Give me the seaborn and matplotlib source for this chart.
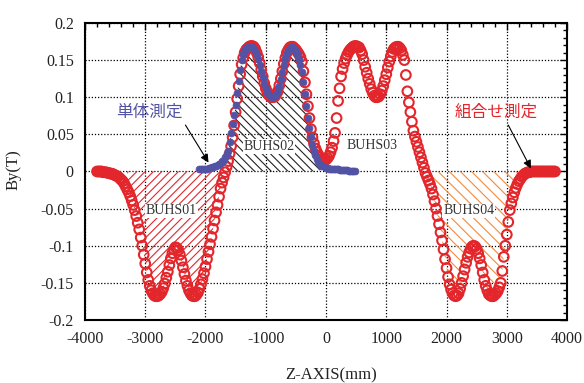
import numpy as np
import matplotlib
matplotlib.use("Agg")
import matplotlib.pyplot as plt
import seaborn as sns
from matplotlib.ticker import MultipleLocator

# ---------------- data ----------------
# combined measurement (組合せ測定), 25 mm measurement grid
z_red = np.arange(-3800, 3801, 25)
by_red = [
    0.000, 0.000, 0.000, 0.000, -0.001, -0.001, -0.001, -0.002, -0.002, -0.003,
    -0.003, -0.004, -0.005, -0.006, -0.007, -0.009, -0.011, -0.013, -0.016, -0.020,
    -0.024, -0.028, -0.033, -0.039, -0.045, -0.052, -0.060, -0.069, -0.078, -0.089,
    -0.100, -0.112, -0.124, -0.136, -0.146, -0.154, -0.160, -0.164, -0.167, -0.168,
    -0.168, -0.167, -0.165, -0.162, -0.157, -0.151, -0.143, -0.135, -0.126, -0.117,
    -0.110, -0.105, -0.102, -0.103, -0.106, -0.112, -0.120, -0.129, -0.138, -0.147,
    -0.154, -0.160, -0.164, -0.167, -0.168, -0.168, -0.166, -0.163, -0.158, -0.152,
    -0.145, -0.137, -0.128, -0.118, -0.108, -0.098, -0.088, -0.077, -0.066, -0.055,
    -0.045, -0.034, -0.023, -0.015, -0.008, -0.001, 0.006, 0.014, 0.024, 0.034,
    0.046, 0.062, 0.080, 0.098, 0.115, 0.131, 0.144, 0.153, 0.160, 0.164,
    0.166, 0.168, 0.169, 0.169, 0.168, 0.165, 0.160, 0.154, 0.146, 0.137,
    0.128, 0.119, 0.112, 0.107, 0.103, 0.101, 0.100, 0.100, 0.101, 0.104,
    0.108, 0.116, 0.125, 0.135, 0.145, 0.153, 0.160, 0.164, 0.167, 0.168,
    0.168, 0.166, 0.164, 0.161, 0.158, 0.154, 0.148, 0.135, 0.120, 0.104,
    0.088, 0.072, 0.057, 0.046, 0.038, 0.031, 0.026, 0.022, 0.019, 0.017,
    0.015, 0.015, 0.016, 0.018, 0.021, 0.026, 0.032, 0.041, 0.052, 0.072,
    0.095, 0.112, 0.128, 0.138, 0.146, 0.152, 0.157, 0.161, 0.164, 0.166,
    0.168, 0.169, 0.169, 0.168, 0.167, 0.163, 0.158, 0.150, 0.141, 0.133,
    0.125, 0.118, 0.111, 0.106, 0.102, 0.100, 0.100, 0.101, 0.104, 0.109,
    0.115, 0.123, 0.131, 0.140, 0.148, 0.155, 0.161, 0.165, 0.167, 0.168,
    0.168, 0.166, 0.163, 0.157, 0.150, 0.130, 0.108, 0.093, 0.080, 0.067,
    0.055, 0.047, 0.040, 0.033, 0.026, 0.019, 0.012, 0.005, -0.002, -0.007,
    -0.012, -0.017, -0.023, -0.031, -0.040, -0.050, -0.060, -0.071, -0.082, -0.093,
    -0.105, -0.118, -0.130, -0.142, -0.152, -0.159, -0.164, -0.167, -0.168, -0.167,
    -0.164, -0.158, -0.150, -0.141, -0.132, -0.123, -0.115, -0.109, -0.104, -0.101,
    -0.100, -0.101, -0.104, -0.110, -0.117, -0.126, -0.136, -0.146, -0.154, -0.160,
    -0.165, -0.167, -0.168, -0.168, -0.166, -0.164, -0.161, -0.156, -0.150, -0.134,
    -0.115, -0.100, -0.085, -0.068, -0.052, -0.043, -0.035, -0.028, -0.022, -0.017,
    -0.013, -0.010, -0.007, -0.005, -0.003, -0.002, -0.001, -0.001, 0.000, 0.000,
    0.000, 0.000, 0.000, 0.000, 0.000, 0.000, 0.000, 0.000, 0.000, 0.000,
    0.000, 0.000, 0.000, 0.000, 0.000,
]

# single measurement (単体測定) of BUHS02
z_blue = np.arange(-2100, 476, 25)
by_blue = [
    0.003, 0.003, 0.003, 0.004, 0.004, 0.004, 0.005, 0.005, 0.006, 0.006,
    0.007, 0.008, 0.009, 0.010, 0.012, 0.014, 0.016, 0.019, 0.023, 0.028,
    0.040, 0.052, 0.064, 0.076, 0.090, 0.106, 0.122, 0.137, 0.150, 0.158,
    0.163, 0.166, 0.167, 0.168, 0.168, 0.167, 0.165, 0.162, 0.157, 0.151,
    0.144, 0.136, 0.127, 0.119, 0.112, 0.107, 0.103, 0.101, 0.100, 0.100,
    0.101, 0.104, 0.108, 0.115, 0.124, 0.134, 0.144, 0.153, 0.160, 0.164,
    0.166, 0.167, 0.167, 0.165, 0.162, 0.158, 0.152, 0.144, 0.134, 0.120,
    0.104, 0.088, 0.072, 0.058, 0.046, 0.036, 0.028, 0.022, 0.017, 0.013,
    0.010, 0.008, 0.007, 0.006, 0.005, 0.005, 0.004, 0.004, 0.004, 0.003,
    0.003, 0.003, 0.003, 0.002, 0.002, 0.002, 0.002, 0.002, 0.002, 0.001,
    0.001, 0.001, 0.001, 0.001,
]

x_ticks = [-4000, -3000, -2000, -1000, 0, 1000, 2000, 3000, 4000]
x_tick_labels = ["-4000", "-3000", "-2000", "-1000", "0", "1000", "2000", "3000", "4000"]
y_ticks = [-0.2, -0.15, -0.1, -0.05, 0, 0.05, 0.1, 0.15, 0.2]
y_tick_labels = ["-0.2", "-0.15", "-0.1", "-0.05", "0", "0.05", "0.1", "0.15", "0.2"]

region_names = ["BUHS01", "BUHS02", "BUHS03", "BUHS04"]
label_single = "単体測定"
label_combined = "組合せ測定"
x_label = "Z-AXIS(mm)"
y_label = "By(T)"

# ---------------- style ----------------
RED = "#e3262b"
BLUE = "#5353a6"
ORANGE = "#f58a3c"

sns.set_style("white")
plt.rcParams["font.family"] = ["Liberation Serif", "DejaVu Serif"]
plt.rcParams["hatch.linewidth"] = 0.8

fig = plt.figure(figsize=(5.84, 3.83), dpi=100)
ax = fig.add_axes([0.1455, 0.1645, 0.8255, 0.7755])

z_red_arr = np.asarray(z_red)
by_red_arr = np.asarray(by_red)
z_blue_arr = np.asarray(z_blue)
by_blue_arr = np.asarray(by_blue)

# hatched areas
m1 = (z_red_arr >= -3300) & (z_red_arr <= -1675)
ax.fill_between(z_red_arr[m1], by_red_arr[m1], 0, facecolor="none",
                edgecolor=RED, hatch="////", linewidth=0, zorder=1)
m2 = (z_blue_arr >= -1650) & (z_blue_arr <= -100)
ax.fill_between(z_blue_arr[m2], by_blue_arr[m2], 0, facecolor="none",
                edgecolor="#222222", hatch="\\\\\\\\", linewidth=0, zorder=1)
m4 = (z_red_arr >= 1650) & (z_red_arr <= 3375)
ax.fill_between(z_red_arr[m4], by_red_arr[m4], 0, facecolor="none",
                edgecolor=ORANGE, hatch="\\\\\\", linewidth=0, zorder=1)

# measurement points
sns.scatterplot(x=z_red_arr, y=by_red_arr, ax=ax, marker="o", s=48,
                facecolor="none", edgecolor=RED, linewidth=1.5, zorder=3)
sns.scatterplot(x=z_blue_arr, y=by_blue_arr, ax=ax, marker="o", s=24,
                color=BLUE, edgecolor=BLUE, linewidth=0.6, zorder=4)

# axes
ax.set_xlim(-4000, 4000)
ax.set_ylim(-0.2, 0.2)
ax.set_xticks(x_ticks)
ax.set_xticklabels(x_tick_labels)
ax.set_yticks(y_ticks)
ax.set_yticklabels(y_tick_labels)
ax.xaxis.set_minor_locator(MultipleLocator(200))
ax.yaxis.set_minor_locator(MultipleLocator(0.01))
ax.tick_params(which="both", direction="in", top=True, right=True,
               color="black", width=1.0)
ax.tick_params(which="major", length=5, labelsize=11.5, pad=8, labelcolor="#222222")
ax.tick_params(which="minor", length=3)
for sp in ax.spines.values():
    sp.set_linewidth(1.5)
    sp.set_color("black")
ax.grid(True, which="major", linestyle=(0, (1, 1.5)), color="black", linewidth=0.9)
ax.set_axisbelow(True)

ax.set_xlabel(x_label, fontsize=12, color="#222222")
ax.xaxis.set_label_coords(0.51, -0.158)
ax.set_ylabel(y_label, fontsize=12, color="#222222")
ax.yaxis.set_label_coords(-0.131, 0.505)

# region labels
label_pos = [(-2570, -0.053), (-945, 0.034), (760, 0.035), (2370, -0.053)]
for name, (lx, ly) in zip(region_names, label_pos):
    ax.text(lx, ly, name, fontsize=10, color="#333333", ha="center", va="center",
            zorder=5, bbox=dict(facecolor="white", edgecolor="none", pad=0.6))

# annotations
cjk = ["Noto Sans CJK JP", "DejaVu Sans"]
ax.annotate(label_single, xy=(-1950, 0.012), xytext=(-2930, 0.080),
            fontsize=12, color=BLUE, family=cjk, ha="center", va="center",
            zorder=6,
            arrowprops=dict(arrowstyle="-|>", color="black", lw=0.8,
                            mutation_scale=12, relpos=(1.0, 0.0),
                            shrinkA=1, shrinkB=0))
ax.annotate(label_combined, xy=(3400, 0.004), xytext=(2820, 0.080),
            fontsize=12, color=RED, family=cjk, ha="center", va="center",
            zorder=6,
            arrowprops=dict(arrowstyle="-|>", color="black", lw=0.8,
                            mutation_scale=12, relpos=(0.62, 0.0),
                            shrinkA=1, shrinkB=0))

fig.savefig("out.png", dpi=100)
